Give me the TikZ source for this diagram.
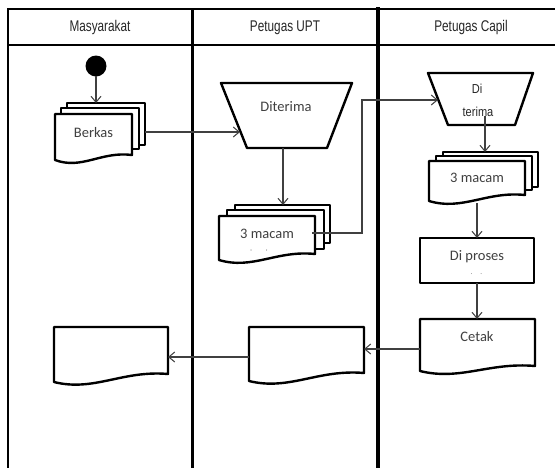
\documentclass[tikz,border=0pt]{standalone}
\usepackage{fontspec}
\setmainfont{Carlito}
\newfontfamily\hdrfont[FakeStretch=0.76]{Liberation Sans}
\newfontfamily\narrowfont[FakeStretch=0.85]{Liberation Sans}
\usetikzlibrary{arrows.meta}

% document outline: left, top, right, right-bottom, left-bottom
\newcommand\docoutline[5]{%
  \draw[shapeline] (#1,#2) -- (#3,#2) -- (#3,#4)
    .. controls ({#1+0.6*(#3-#1)},{#4-4}) and ({#1+0.35*(#3-#1)},{#5+10}) .. (#1,#5) -- cycle;}
% stacked sheet behind a document
\newcommand\sheet[4]{%
  \draw[shapeline] (#1,#2) rectangle (#3,#4);}

\begin{document}
\begin{tikzpicture}[x=1pt,y=-1pt,
  shapeline/.style={draw=black,fill=white,line width=2.4pt,line join=round},
  lane/.style={draw=black,line cap=rect},
  flow/.style={draw=black!75,line width=1.1pt,-{Straight Barb[length=6pt,width=10pt,line width=1pt]}},
  lbl/.style={text=black!75,font=\fontsize{14.5}{16}\selectfont,inner sep=0pt},
  hdr/.style={text=black!85,font=\hdrfont\fontsize{15.5}{17}\selectfont,inner sep=0pt},
  small/.style={text=black!85,font=\narrowfont\fontsize{13}{14}\selectfont,inner sep=0pt},
  tick/.style={text=black!60,font=\fontsize{7}{8}\selectfont,inner sep=0pt}]

\useasboundingbox (0,0) rectangle (555,467);
\fill[white] (0,0) rectangle (555,467);

% swimlane frame
\draw[lane,line width=2pt] (8,9) -- (555,9);
\draw[lane,line width=2pt] (8,45) -- (555,45);
\draw[lane,line width=2pt] (8,9) -- (8,467);
\draw[lane,line width=3pt] (192,9) -- (192,467);
\draw[lane,line width=4pt] (377.5,9) -- (377.5,467);

\node[hdr] (hmas) at (100,27.5) {Masyarakat};
\node[hdr] (hupt) at (285,27.5) {Petugas UPT};
\node[hdr] (hcap) at (471,27.5) {Petugas Capil};

% start point
\fill[black] (96,66) circle (10.5);
\coordinate (start) at (96,76);

% Berkas (stacked documents)
\sheet{67}{103}{145}{145}
\sheet{61}{108}{139}{149}
\docoutline{55}{114}{132}{155}{160}
\node[lbl] (berkas) at (93.5,133) {Berkas};
\coordinate (berkasTop) at (96,103);
\coordinate (berkasR) at (145,132);

% Diterima (manual operation)
\draw[shapeline] (221,83) -- (352,83) -- (327,148) -- (247,148) -- cycle;
\node[lbl] (diterima) at (286,107) {Diterima};
\coordinate (diterimaL) at (240,132);
\coordinate (diterimaB) at (283,148);

% 3 macam in Petugas UPT
\sheet{235}{205}{330}{243}
\sheet{227}{210}{324}{249}
\docoutline{219}{216}{315}{254}{260}
\node[lbl] (macamA) at (267,234) {3 macam};
\node[tick] (ticksA) at (259,252) {\textquotesingle\hspace{14pt}\textquotesingle};
\coordinate (macamAT) at (283,205);
\coordinate (macamAR) at (312,233);
\coordinate (bendA) at (362,233);
\coordinate (bendB) at (362,100);

% Di terima (manual operation)
\draw[shapeline] (428,73) -- (533,73) -- (515,125) -- (448,125) -- cycle;
\node[small] (di) at (477,89) {Di};
\node[small] (terima) at (478,112) {terima};
\coordinate (diterimaCL) at (438,100);
\coordinate (diterimaCB) at (485,116);

% 3 macam in Petugas Capil
\sheet{443}{152}{538}{187}
\sheet{436}{156}{532}{190}
\docoutline{429}{161}{525}{195}{201}
\node[lbl] (macamB) at (477,178) {3 macam};
\coordinate (macamBT) at (485,152);
\coordinate (macamBB) at (477,203);

% Di proses
\draw[shapeline] (420,238) rectangle (534,283);
\node[lbl] (proses) at (477,257) {Di proses};
\node[tick] (dots) at (476.5,274) {.\hspace{8pt}.};
\coordinate (prosesT) at (477,238);
\coordinate (prosesB) at (477,283);

% Cetak
\docoutline{420}{319}{535}{366}{371}
\node[lbl] (cetak) at (477,337) {Cetak};
\coordinate (cetakT) at (477,319);
\coordinate (cetakL) at (420,349);

% output documents
\docoutline{249}{327}{364}{373}{381}
\coordinate (outUR) at (364,349);
\coordinate (outUL) at (249,357);
\docoutline{54}{327}{168}{374}{382}
\coordinate (outMR) at (168,357);

% connectors
\draw[flow] (start) -- (berkasTop);
\draw[flow] (berkasR) -- (diterimaL);
\draw[flow] (diterimaB) -- (macamAT);
\draw[flow] (macamAR) -- (bendA) -- (bendB) -- (diterimaCL);
\draw[flow] (diterimaCB) -- (macamBT);
\draw[flow] (macamBB) -- (prosesT);
\draw[flow] (prosesB) -- (cetakT);
\draw[flow] (cetakL) -- (outUR);
\draw[flow] (outUL) -- (outMR);
\end{tikzpicture}
\end{document}
